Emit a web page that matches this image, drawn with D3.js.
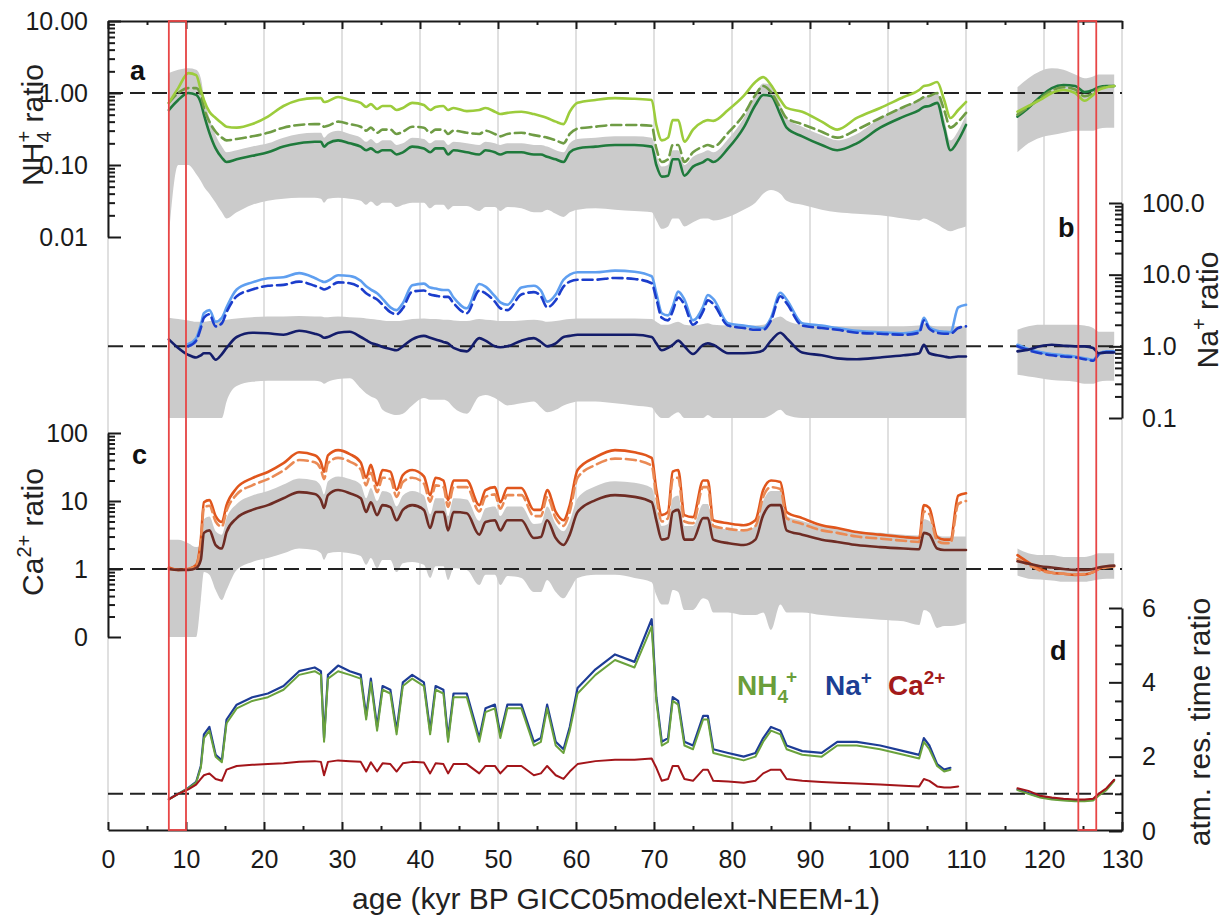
<!DOCTYPE html>
<html><head><meta charset="utf-8">
<script src="https://cdn.jsdelivr.net/npm/d3@7"></script>
<style>body{margin:0;background:#fff} text{font-family:"Liberation Sans",Arial,sans-serif}</style>
</head><body><svg id="c" width="1223" height="922"></svg>
<script>
// ---------- DATA ----------
const AGE = [7.8, 9.0, 10.3, 11.3, 11.9, 12.3, 13.0, 13.8, 14.6, 15.2, 16.5, 18.5, 20.5, 22.5, 24.5, 26.5, 27.3, 27.7, 28.2, 29.5, 31.0, 32.4, 33.1, 33.7, 34.5, 35.2, 36.2, 37.0, 37.8, 39.0, 40.5, 41.3, 42.0, 43.0, 43.6, 44.3, 46.0, 47.6, 48.4, 49.6, 50.3, 51.2, 53.0, 54.6, 55.5, 56.3, 57.4, 58.4, 59.2, 60.2, 62.5, 65.0, 67.5, 69.7, 70.3, 71.0, 71.8, 72.4, 73.1, 73.9, 75.0, 76.3, 76.9, 77.6, 79.5, 81.5, 83.0, 84.0, 85.0, 86.2, 87.0, 89.0, 91.5, 93.5, 96.0, 99.0, 102.0, 104.0, 104.6, 105.3, 106.3, 107.2, 108.0, 109.0, 110.0];
const AGE2 = [116.6, 118, 119.5, 121, 122.5, 124, 125.2, 126.3, 127, 128, 129];
const xTicks = [0,10,20,30,40,50,60,70,80,90,100,110,120,130];

// panel a: NH4+ ratio
const nh4Light = [0.73,1.17,1.89,1.77,1.1,0.8,0.55,0.45,0.38,0.34, 0.33,0.37,0.47,0.66,0.8,0.85,0.85,0.75,0.77,0.88, 0.8,0.73,0.64,0.70,0.6,0.66,0.66,0.58,0.62,0.73, 0.68,0.58,0.64,0.66,0.58,0.62,0.56,0.58,0.62,0.55, 0.51,0.53,0.55,0.51,0.48,0.45,0.4,0.37,0.55,0.73, 0.8,0.85,0.83,0.8,0.36,0.22,0.24,0.42,0.42,0.21, 0.31,0.40,0.42,0.41,0.58,0.91,1.42,1.66,1.29,0.8, 0.62,0.55,0.4,0.31,0.45,0.62,0.88,1.1,1.25,1.29, 1.42,0.8,0.45,0.58,0.75];
const nh4Dashed = [0.73,1.0,1.17,1.17,0.94,0.62,0.4,0.29,0.24,0.22, 0.23,0.25,0.28,0.33,0.36,0.37,0.37,0.34,0.35,0.40, 0.37,0.34,0.30,0.33,0.28,0.31,0.31,0.27,0.29,0.34, 0.33,0.28,0.31,0.31,0.27,0.30,0.28,0.27,0.30,0.27, 0.25,0.27,0.28,0.26,0.25,0.24,0.22,0.2,0.27,0.32, 0.34,0.36,0.36,0.35,0.17,0.11,0.12,0.19,0.19,0.11, 0.15,0.18,0.19,0.18,0.28,0.5,0.94,1.25,1.03,0.62, 0.45,0.37,0.29,0.24,0.31,0.45,0.64,0.8,0.88,0.91, 1.0,0.58,0.33,0.40,0.53];
const nh4Dark = [0.58,0.8,1.0,0.94,0.73,0.5,0.28,0.17,0.126,0.11, 0.12,0.134,0.15,0.18,0.2,0.21,0.21,0.18,0.2,0.22, 0.2,0.18,0.16,0.17,0.15,0.16,0.16,0.14,0.15,0.18, 0.17,0.15,0.17,0.17,0.14,0.16,0.15,0.14,0.16,0.15, 0.14,0.15,0.15,0.14,0.14,0.13,0.12,0.11,0.15,0.17, 0.18,0.19,0.19,0.18,0.1,0.069,0.071,0.12,0.12,0.071, 0.095,0.11,0.12,0.11,0.17,0.33,0.68,0.94,0.91,0.5, 0.33,0.25,0.19,0.16,0.2,0.33,0.47,0.58,0.64,0.66, 0.73,0.33,0.16,0.22,0.36];
const nh4BandHi = [1.9,2.1,2.2,2.1,1.6,0.9,0.45,0.26,0.18,0.15, 0.16,0.18,0.2,0.24,0.27,0.28,0.28,0.24,0.27,0.3, 0.27,0.24,0.21,0.23,0.2,0.22,0.22,0.19,0.2,0.24, 0.23,0.2,0.22,0.22,0.19,0.21,0.2,0.19,0.21,0.2, 0.19,0.2,0.2,0.19,0.19,0.18,0.16,0.15,0.2,0.23, 0.24,0.25,0.25,0.24,0.14,0.095,0.1,0.16,0.16,0.1, 0.13,0.15,0.16,0.15,0.23,0.45,0.95,1.35,1.3,0.7, 0.45,0.34,0.26,0.22,0.27,0.45,0.65,0.8,0.88,0.9, 1.0,0.45,0.22,0.3,0.5];
const nh4BandLo = [0.01,0.1,0.1,0.075,0.06,0.05,0.04,0.03,0.022,0.018, 0.022,0.028,0.032,0.034,0.035,0.035,0.034,0.03,0.034,0.035, 0.034,0.032,0.028,0.031,0.027,0.03,0.03,0.026,0.028,0.03, 0.03,0.025,0.028,0.028,0.024,0.027,0.027,0.023,0.026,0.026, 0.023,0.026,0.025,0.022,0.022,0.024,0.021,0.019,0.022,0.024, 0.025,0.024,0.023,0.022,0.017,0.013,0.014,0.018,0.018,0.014, 0.016,0.018,0.018,0.017,0.019,0.024,0.03,0.04,0.045,0.04, 0.032,0.028,0.024,0.022,0.021,0.02,0.018,0.017,0.018,0.017, 0.015,0.013,0.012,0.013,0.014];
const nh4Light2 = [0.55,0.66,0.8,1.0,1.1,1.0,0.78,0.94,1.1,1.2,1.25];
const nh4Dashed2 = [0.5,0.64,0.84,1.08,1.2,1.12,0.9,1.0,1.15,1.22,1.25];
const nh4Dark2 = [0.47,0.62,0.88,1.17,1.29,1.25,1.03,1.1,1.2,1.25,1.25];
const nh4BandHi2 = [1.2,1.6,2.0,2.2,2.1,1.8,1.6,1.7,1.8,1.8,1.8];
const nh4BandLo2 = [0.15,0.2,0.24,0.26,0.28,0.3,0.3,0.3,0.32,0.33,0.33];

// panel b: Na+ ratio
const naLight = [null,null,1.08,1.3,2.0,2.9,3.2,2.2,2.5,3.5, 6.2,7.8,8.9,9.2,10.5,9.0,8.2,7.9,8.2,9.8, 9.6,8.2,6.9,6.2,5.5,4.6,3.5,3.2,4.0,7.1, 7.5,6.6,6.4,6.1,6.1,4.8,3.4,7.4,6.8,5.0, 4.1,3.8,6.6,7.0,6.0,4.2,5.3,8.5,10.0,10.8, 10.8,11.4,11.0,9.5,5.5,2.9,2.7,3.6,5.8,4.5, 2.3,3.6,5.2,4.6,2.1,1.95,1.85,1.8,2.5,5.6, 4.5,2.1,1.95,1.8,1.65,1.57,1.52,1.65,2.5,1.85, 1.65,1.6,1.57,3.5,3.8];
const naDashed = [null,null,1.0,1.2,1.8,2.5,2.8,1.9,2.1,3.0, 5.0,6.2,7.0,7.2,8.0,7.0,6.5,6.2,6.5,7.8, 7.6,6.5,5.5,5.0,4.5,3.8,3.0,2.8,3.4,5.8, 6.0,5.3,5.1,4.9,4.9,4.0,2.9,6.0,5.5,4.2, 3.4,3.2,5.3,5.7,5.0,3.5,4.4,6.8,8.0,8.5, 8.5,9.0,8.7,7.6,4.6,2.5,2.3,3.1,4.8,3.8, 2.0,3.1,4.4,3.9,1.95,1.8,1.7,1.7,2.3,5.0, 4.0,1.95,1.8,1.7,1.55,1.5,1.45,1.55,2.3,1.75, 1.55,1.5,1.5,1.8,1.9];
const naDark = [1.25,0.95,0.76,0.70,0.75,0.8,0.8,0.65,0.78,0.95, 1.35,1.55,1.52,1.45,1.65,1.5,1.4,1.32,1.35,1.55, 1.6,1.35,1.22,1.12,1.05,0.98,0.92,0.88,1.0,1.25, 1.4,1.32,1.25,1.15,1.1,0.95,0.85,1.3,1.2,1.0, 0.97,1.0,1.2,1.3,1.15,1.0,1.1,1.35,1.4,1.45, 1.45,1.45,1.45,1.35,1.1,0.88,0.95,1.05,1.2,1.0, 0.78,1.05,1.1,1.05,0.8,0.8,0.82,0.88,1.2,1.55, 1.3,0.82,0.75,0.68,0.66,0.7,0.75,0.8,1.05,0.8, 0.75,0.72,0.7,0.72,0.72];
const naBandHi = [2.5,2.4,2.3,2.2,2.2,2.2,2.25,2.3,2.3,2.35, 2.45,2.55,2.6,2.6,2.65,2.6,2.6,2.55,2.55,2.6, 2.55,2.5,2.45,2.4,2.35,2.3,2.25,2.25,2.3,2.4, 2.45,2.4,2.4,2.35,2.35,2.3,2.25,2.4,2.35,2.3, 2.25,2.25,2.3,2.35,2.3,2.2,2.25,2.35,2.4,2.45, 2.45,2.45,2.45,2.4,2.2,2.0,2.0,2.1,2.2,2.0, 1.95,2.05,2.1,2.0,1.95,1.95,1.95,2.0,2.3,2.6, 2.3,2.0,1.95,1.9,1.9,1.9,1.9,1.95,2.1,1.95, 1.9,1.9,1.9,1.9,1.9];
const naBandLo = [0.1,0.1,0.1,0.1,0.1,0.1,0.1,0.1,0.1,0.17, 0.28,0.32,0.33,0.33,0.33,0.33,0.32,0.3,0.32,0.35, 0.36,0.26,0.22,0.2,0.18,0.13,0.115,0.11,0.115,0.15, 0.19,0.18,0.18,0.18,0.17,0.14,0.115,0.2,0.21,0.19, 0.17,0.15,0.16,0.17,0.14,0.12,0.13,0.15,0.16,0.17, 0.17,0.16,0.15,0.14,0.115,0.1,0.1,0.11,0.12,0.1, 0.1,0.1,0.11,0.1,0.1,0.1,0.1,0.1,0.11,0.13, 0.11,0.1,0.1,0.1,0.1,0.1,0.1,0.1,0.1,0.1, 0.1,0.1,0.1,0.1,0.1];
const naLight2 = [1.05,0.92,0.83,0.78,0.75,0.72,0.68,0.65,0.78,0.85,0.85];
const naDashed2 = [1.0,0.88,0.8,0.75,0.72,0.7,0.66,0.63,0.76,0.83,0.83];
const naDark2 = [0.85,0.9,1.0,1.05,1.02,1.0,1.0,0.95,0.8,0.82,0.82];
const naBandHi2 = [1.7,1.9,2.0,2.0,2.0,2.0,1.95,1.8,1.6,1.6,1.6];
const naBandLo2 = [0.4,0.38,0.36,0.34,0.33,0.32,0.3,0.3,0.32,0.33,0.33];

// panel c: Ca2+ ratio
const caLight = [1.05,0.97,1.0,1.15,2.7,9.6,10.3,6.0,4.9,8.7, 15.5,21.7,26.7,36,52,47,37,27,47,56, 49,37,22,34,17,28.5,27,14.5,24,28.5, 23,12.2,22,20,10.3,20,20,8.7,14.5,16, 9.6,15.5,15.5,7.4,7.4,14.5,6.9,5.2,8.7,28.5, 44,56,52,43,14.5,6.2,6.9,27,28.5,6.2, 5.8,20,20,5.2,4.7,4.4,5.2,14.5,20,19, 6.9,5.6,4.4,4.0,3.5,3.2,2.95,2.85,8.7,7.9, 2.95,2.7,2.7,12,13];
const caDashed = [1.0,0.97,1.0,1.12,2.4,8.0,8.5,5.0,4.2,7.2, 12.5,17,21,28,40,37,29,21,36,43, 38,29,17,26,13.5,22,21,11.5,19,22, 18,9.8,17,16,8.2,16,16,7.0,11.5,12.5, 7.7,12.2,12.2,6.0,6.0,11.5,5.6,4.3,7.0,22, 34,42,40,33,11.5,5.0,5.6,21,22,5.0, 4.7,16,16,4.3,3.9,3.7,4.3,11.5,16,15, 5.6,4.6,3.7,3.4,3.0,2.8,2.6,2.5,7.0,6.4, 2.6,2.4,2.4,9.0,10];
const caDark = [1.0,0.97,0.97,1.03,1.36,3.4,3.7,2.25,2.0,3.5, 5.6,7.4,8.7,11,13.5,12.7,10.3,7.9,12.2,14.5, 13,11,6.9,9.6,6.2,8.7,8.1,5.2,7.4,8.7, 7.4,4.0,6.9,6.9,3.7,6.9,6.6,3.2,4.9,5.2, 3.7,5.2,5.2,2.85,2.95,5.2,2.85,2.25,3.2,6.9, 10.3,12.2,11.5,9.6,5.2,2.7,2.85,6.9,7.4,2.7, 2.7,5.6,5.6,2.7,2.4,2.25,2.7,6.2,8.7,8.7, 3.7,3.2,2.7,2.5,2.25,2.1,2.0,1.95,3.4,3.2, 2.0,1.9,1.9,1.9,1.9];
const caBandHi = [2.7,2.7,2.4,2.1,2.2,5.4,5.9,3.6,3.2,5.6, 9,12,14,17.5,21.5,20,16.5,12.5,19.5,23, 21,17.5,11,15.5,10,14,13,8.3,12,14, 12,6.4,11,11,6,11,10.5,5.1,7.8,8.3, 6,8.3,8.3,4.6,4.7,8.3,4.6,3.6,5.1,11, 16.5,19.5,18.5,15.5,8.3,4.3,4.6,11,12,4.3, 4.3,9,9,4.3,3.8,3.6,4.3,10,14,14, 6,5.1,4.3,4.0,3.6,3.4,3.2,3.1,5.4,5.1, 3.2,3.0,3.0,3.0,3.0];
const caBandLo = [0.1,0.1,0.1,0.1,0.35,0.9,0.82,0.49,0.35,0.49, 0.97,1.27,1.45,1.7,2.0,1.9,1.7,1.36,1.7,1.78, 1.7,1.55,1.15,1.45,1.03,1.36,1.36,0.9,1.22,1.27, 1.15,0.74,1.1,1.1,0.69,1.03,0.97,0.58,0.82,0.82, 0.58,0.79,0.74,0.46,0.46,0.69,0.46,0.37,0.49,0.74, 0.82,0.82,0.74,0.64,0.41,0.3,0.3,0.49,0.46,0.25, 0.25,0.37,0.35,0.23,0.23,0.21,0.21,0.23,0.127,0.3, 0.23,0.23,0.21,0.2,0.19,0.18,0.17,0.15,0.25,0.23, 0.136,0.145,0.145,0.15,0.16];
const caLight2 = [1.6,1.25,1.0,0.88,0.85,0.82,0.83,0.9,1.0,1.08,1.1];
const caDashed2 = [1.4,1.15,0.95,0.88,0.85,0.83,0.84,0.9,1.0,1.05,1.1];
const caDark2 = [1.3,1.2,1.1,1.05,1.0,0.97,0.97,1.0,1.05,1.1,1.12];
const caBandHi2 = [2.0,1.7,1.6,1.6,1.5,1.5,1.5,1.6,1.7,1.7,1.7];
const caBandLo2 = [0.8,0.72,0.7,0.68,0.65,0.65,0.65,0.68,0.7,0.72,0.72];

// panel d: atmospheric residence time ratio
const resNH4 = [0.85,1.0,1.15,1.3,1.7,2.5,2.7,2.0,1.85,2.9, 3.3,3.5,3.6,3.8,4.2,4.3,4.2,2.4,4.1,4.3, 4.2,4.1,3.0,4.0,2.7,3.8,3.7,2.6,3.9,4.1, 3.9,2.6,3.8,3.7,2.4,3.6,3.6,2.4,3.2,3.3, 2.5,3.3,3.3,2.3,2.4,3.3,2.3,2.1,2.7,3.7, 4.2,4.6,4.4,5.5,3.5,2.3,2.4,3.5,3.4,2.3, 2.2,3.0,3.0,2.1,2.0,1.9,2.0,2.4,2.7,2.6, 2.2,2.05,2.0,2.3,2.3,2.2,2.05,1.95,2.4,2.2, 1.75,1.6,1.65,null,null];
const resNa = [0.86,1.0,1.16,1.32,1.75,2.6,2.8,2.05,1.9,3.0, 3.4,3.6,3.7,3.9,4.3,4.4,4.3,2.5,4.2,4.45, 4.3,4.2,3.1,4.1,2.8,3.9,3.8,2.7,4.0,4.2, 4.0,2.7,3.9,3.8,2.5,3.7,3.7,2.5,3.3,3.4, 2.6,3.4,3.4,2.4,2.5,3.4,2.4,2.2,2.8,3.85, 4.35,4.75,4.55,5.7,3.6,2.4,2.5,3.6,3.5,2.4, 2.3,3.1,3.1,2.2,2.1,2.0,2.1,2.5,2.8,2.7, 2.3,2.15,2.1,2.4,2.4,2.3,2.15,2.05,2.5,2.3, 1.8,1.65,1.7,null,null];
const resCa = [0.85,1.0,1.12,1.25,1.4,1.5,1.55,1.4,1.35,1.65, 1.75,1.78,1.8,1.82,1.86,1.88,1.86,1.5,1.86,1.9, 1.88,1.86,1.6,1.85,1.6,1.82,1.8,1.6,1.82,1.86, 1.84,1.55,1.82,1.8,1.55,1.8,1.8,1.55,1.75,1.75, 1.55,1.75,1.75,1.5,1.55,1.75,1.5,1.4,1.6,1.8, 1.88,1.92,1.92,1.95,1.7,1.35,1.4,1.75,1.75,1.4, 1.35,1.65,1.65,1.35,1.33,1.3,1.35,1.55,1.65,1.65, 1.4,1.35,1.32,1.3,1.28,1.25,1.22,1.2,1.4,1.35, 1.2,1.17,1.17,1.2,null];
const resNH4_2 = [1.1,1.0,0.9,0.85,0.82,0.8,0.8,0.82,0.95,1.1,1.35];
const resNa_2 = [1.12,1.02,0.92,0.87,0.84,0.82,0.82,0.84,0.97,1.12,1.37];
const resCa_2 = [1.15,1.08,0.95,0.9,0.87,0.85,0.85,0.87,1.0,1.15,1.38];

// ---------- CHART ----------
const svg = d3.select('#c');
const FONT = '"Liberation Sans", Arial, sans-serif';
const x = d3.scaleLinear().domain([0,130]).range([108,1122]);
const ya = d3.scaleLog().domain([0.01,10]).range([237,21]);
const yb = d3.scaleLog().domain([0.1,100]).range([418,203]);
const yc = d3.scaleLog().domain([0.1,100]).range([637,433]);
const yd = d3.scaleLinear().domain([0,6]).range([831,608]);

// vertical grid
svg.append('g').selectAll('line').data(xTicks).join('line')
  .attr('x1',d=>x(d)).attr('x2',d=>x(d)).attr('y1',21).attr('y2',830)
  .attr('stroke','#d6d6d6').attr('stroke-width',1.5);

function band(ages, lo, hi, y){
  const rows = ages.map((a,i)=>({a:a, lo:lo[i], hi:hi[i]}));
  svg.append('path').datum(rows).attr('fill','#cbcbcb').attr('stroke','none')
    .attr('d', d3.area().x(d=>x(d.a)).y0(d=>y(d.lo)).y1(d=>y(d.hi)).curve(d3.curveMonotoneX));
}
function line(ages, vals, y, color, w, dash, curve){
  const rows = ages.map((a,i)=>({a:a, v:vals[i]}));
  svg.append('path').datum(rows).attr('fill','none').attr('stroke',color).attr('stroke-width',w)
    .attr('stroke-dasharray',dash||null).attr('stroke-linejoin','round').attr('stroke-linecap','round')
    .attr('d', d3.line().defined(d=>d.v!=null).x(d=>x(d.a)).y(d=>y(d.v)).curve(curve||d3.curveMonotoneX));
}

band(AGE, nh4BandLo, nh4BandHi, ya); band(AGE2, nh4BandLo2, nh4BandHi2, ya);
band(AGE, naBandLo, naBandHi, yb);   band(AGE2, naBandLo2, naBandHi2, yb);
band(AGE, caBandLo, caBandHi, yc);   band(AGE2, caBandLo2, caBandHi2, yc);

// ratio = 1 reference lines
[ya(1), yb(1), yc(1), yd(1)].forEach(yy=>{
  svg.append('line').attr('x1',x(0)).attr('x2',x(130)).attr('y1',yy).attr('y2',yy)
    .attr('stroke','#222').attr('stroke-width',2).attr('stroke-dasharray','15,7');
});

// panel a curves
[[AGE,nh4Dark,nh4Dashed,nh4Light],[AGE2,nh4Dark2,nh4Dashed2,nh4Light2]].forEach(s=>{
  line(s[0], s[1], ya, '#1f7a3c', 2.6);
  line(s[0], s[2], ya, '#6f9c45', 2.6, '10,5');
  line(s[0], s[3], ya, '#9ccc3c', 2.6);
});
// panel b curves
[[AGE,naDark,naDashed,naLight],[AGE2,naDark2,naDashed2,naLight2]].forEach(s=>{
  line(s[0], s[3], yb, '#5f9ff0', 2.6);
  line(s[0], s[2], yb, '#1b3dcc', 2.6, '10,5');
  line(s[0], s[1], yb, '#141d6b', 2.6);
});
// panel c curves
[[AGE,caDark,caDashed,caLight],[AGE2,caDark2,caDashed2,caLight2]].forEach(s=>{
  line(s[0], s[3], yc, '#e0561c', 2.6);
  line(s[0], s[2], yc, '#ea8a55', 2.6, '10,5');
  line(s[0], s[1], yc, '#6e2c24', 2.6);
});
// panel d curves
[[AGE,resNa,resNH4,resCa],[AGE2,resNa_2,resNH4_2,resCa_2]].forEach(s=>{
  line(s[0], s[1], yd, '#1d3c96', 2.2, null, d3.curveLinear);
  line(s[0], s[2], yd, '#6aa23c', 2.0, null, d3.curveLinear);
  line(s[0], s[3], yd, '#a3151a', 2.0, null, d3.curveLinear);
});

// ---------- AXES ----------
function styleAxis(g){
  g.attr('font-size',25).attr('font-family',FONT).attr('color','#1a1a1a');
  g.selectAll('line,path').attr('stroke-width',2);
}
function minorLog(lo, hi){
  const out=[];
  for(let e=Math.log10(lo); e<Math.log10(hi)-1e-9; e++){
    for(let k=2;k<=9;k++) out.push(k*Math.pow(10,e));
  }
  return out;
}
function yAxis(scale, side, xPos, majors, labels, minors){
  const mk = side==='left' ? d3.axisLeft : d3.axisRight;
  svg.append('g').attr('transform',`translate(${xPos},0)`)
    .call(mk(scale).tickValues(majors).tickFormat((d,i)=>labels[i]).tickSize(-13).tickSizeOuter(0).tickPadding(20))
    .call(styleAxis);
  svg.append('g').attr('transform',`translate(${xPos},0)`)
    .call(mk(scale).tickValues(minors).tickFormat('').tickSize(-7).tickSizeOuter(0))
    .call(styleAxis).call(g=>g.select('.domain').remove());
}
yAxis(ya,'left',x(0),[10,1,0.1,0.01],['10.00','1.00','0.10','0.01'],minorLog(0.01,10));
yAxis(yb,'right',x(130),[100,10,1,0.1],['100.0','10.0','1.0','0.1'],minorLog(0.1,100));
yAxis(yc,'left',x(0),[100,10,1,0.1],['100','10','1','0'],minorLog(0.1,100));
yAxis(yd,'right',x(130),[6,4,2,0],['6','4','2','0'],[0.5,1,1.5,2.5,3,3.5,4.5,5,5.5]);

// bottom axis
svg.append('g').attr('transform','translate(0,830)')
  .call(d3.axisBottom(x).tickValues(xTicks).tickFormat(d3.format('d')).tickSize(-8).tickSizeOuter(0).tickPadding(20))
  .call(styleAxis);
svg.append('g').attr('transform','translate(0,830)')
  .call(d3.axisBottom(x).tickValues(d3.range(5,130,10)).tickFormat('').tickSize(-4).tickSizeOuter(0))
  .call(styleAxis).call(g=>g.select('.domain').remove());
// top frame
svg.append('g').attr('transform','translate(0,21)')
  .call(d3.axisTop(x).tickValues(xTicks).tickFormat('').tickSize(-8).tickSizeOuter(0))
  .call(styleAxis);
svg.append('g').attr('transform','translate(0,21)')
  .call(d3.axisTop(x).tickValues(d3.range(5,130,10)).tickFormat('').tickSize(-4).tickSizeOuter(0))
  .call(styleAxis).call(g=>g.select('.domain').remove());

// ---------- TEXT ----------
function rotTitle(tx, ty, parts){
  const t = svg.append('text').attr('transform',`translate(${tx},${ty}) rotate(-90)`)
    .attr('text-anchor','middle').attr('font-size',30).attr('fill','#222').attr('font-family',FONT);
  parts.forEach(p=>{
    const s = t.append('tspan').text(p.t);
    if(p.fs) s.attr('font-size',p.fs);
    if(p.dx) s.attr('dx',p.dx);
    if(p.dy) s.attr('dy',p.dy);
  });
}
rotTitle(43,125,[{t:'NH'},{t:'4',fs:20,dy:8},{t:'+',fs:20,dx:-11,dy:-20},{t:'\u00A0ratio',dy:12}]);
rotTitle(43,532,[{t:'Ca'},{t:'2+',fs:20,dy:-12},{t:'\u00A0ratio',dy:12}]);
rotTitle(1218,310,[{t:'Na'},{t:'+',fs:20,dy:-12},{t:'\u00A0ratio',dy:12}]);
rotTitle(1210,722,[{t:'atm. res. time ratio'}]);

svg.append('text').attr('x',616).attr('y',909).attr('text-anchor','middle')
  .attr('font-size',30).attr('fill','#222').attr('font-family',FONT)
  .text('age (kyr BP GICC05modelext-NEEM-1)');

[['a',130,80],['b',1058,237],['c',132,464],['d',1050,660]].forEach(p=>{
  svg.append('text').attr('x',p[1]).attr('y',p[2]).attr('font-size',27).attr('font-weight','bold')
    .attr('fill','#111').attr('font-family',FONT).text(p[0]);
});

// legend
function legend(lx, color, parts){
  const t = svg.append('text').attr('x',lx).attr('y',695).attr('font-size',28).attr('font-weight','bold')
    .attr('fill',color).attr('font-family',FONT);
  parts.forEach(p=>{
    const s = t.append('tspan').text(p.t);
    if(p.fs) s.attr('font-size',p.fs);
    if(p.dx) s.attr('dx',p.dx);
    if(p.dy) s.attr('dy',p.dy);
  });
}
legend(737,'#6a9e3a',[{t:'NH'},{t:'4',fs:19,dy:8},{t:'+',fs:19,dx:-2,dy:-20}]);
legend(825,'#1c3f94',[{t:'Na'},{t:'+',fs:19,dy:-11}]);
legend(888,'#a31a1a',[{t:'Ca'},{t:'2+',fs:19,dy:-11}]);

// red highlight boxes
[[7.8,10.0],[124.4,126.7]].forEach(r=>{
  svg.append('rect').attr('x',x(r[0])).attr('y',21).attr('width',x(r[1])-x(r[0])).attr('height',809)
    .attr('fill','none').attr('stroke','#e84646').attr('stroke-width',1.8);
});
</script>
</body></html>
